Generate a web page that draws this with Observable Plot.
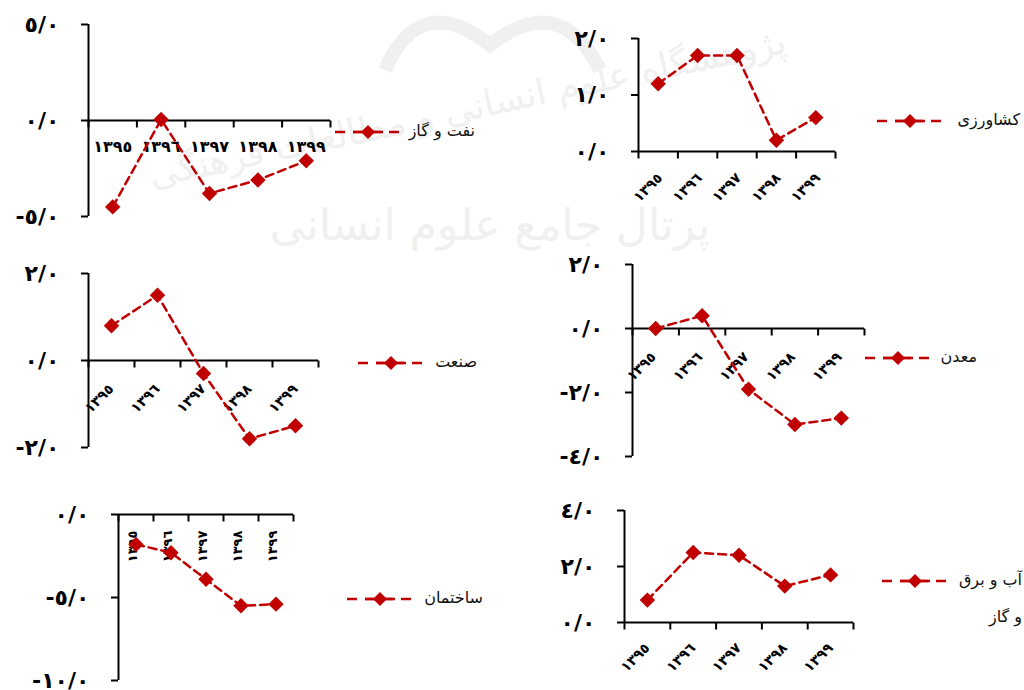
<!DOCTYPE html>
<html>
<head>
<meta charset="utf-8">
<script src="https://cdn.jsdelivr.net/npm/d3@7"></script>
<script src="https://cdn.jsdelivr.net/npm/@observablehq/plot@0.6"></script>
<style>
html, body { margin: 0; padding: 0; background: #fff; }
#chart { position: relative; width: 1024px; height: 690px; overflow: hidden; font-family: "DejaVu Sans", sans-serif; }
#chart svg.panel { position: absolute; left: 0; top: 0; }
.legend-key { position: absolute; }
.legend-text { position: absolute; direction: rtl; text-align: right; font-size: 16px; color: #111; white-space: nowrap; line-height: 20px; }
</style>
</head>
<body>
<div id="chart"></div>
<script>
// ---- data ----
const years = ["١٣٩٥", "١٣٩٦", "١٣٩٧", "١٣٩٨", "١٣٩٩"];
const sectorNames = ["نفت و گاز", "کشاورزی", "صنعت", "معدن", "ساختمان", "آب و برق و گاز"];

const oilGas       = [-4.5, 0.05, -3.8, -3.1, -2.1];
const agriculture  = [1.2, 1.7, 1.7, 0.2, 0.6];
const industry     = [0.8, 1.5, -0.3, -1.8, -1.5];
const mining       = [0.0, 0.4, -1.9, -3.0, -2.8];
const construction = [-1.8, -2.3, -3.9, -5.5, -5.4];
const utilities    = [0.8, 2.5, 2.4, 1.3, 1.7];

const oilGasTicks       = [-5, 0, 5];
const agricultureTicks  = [0, 1, 2];
const industryTicks     = [-2, 0, 2];
const miningTicks       = [-4, -2, 0, 2];
const constructionTicks = [-10, -5, 0];
const utilitiesTicks    = [0, 2, 4];

// ---- helpers ----
const RED = "#c00000";
const W = 1024, H = 690;
const arDigits = "٠١٢٣٤٥٦٧٨٩";
const toAr = s => s.replace(/[0-9]/g, c => arDigits[+c]);
const fmt = d => (d < 0 ? "-" : "") + toAr(Math.abs(d).toFixed(1)).replace(".", "/");
const tickDown = { draw(ctx) { ctx.moveTo(0, 0); ctx.lineTo(0, 7); } };

const chart = document.getElementById("chart");

function panel(values, ticks, L) {
  const pts = years.map((yr, i) => ({ year: yr, pos: i + 0.5, value: values[i] }));
  const bounds = d3.range(years.length + 1);
  const svg = Plot.plot({
    width: W, height: H,
    marginLeft: L.left, marginRight: W - L.right, marginTop: L.top, marginBottom: H - L.bottom,
    x: { domain: [0, years.length], axis: null },
    y: { domain: d3.extent(ticks), axis: null },
    style: { fontFamily: "DejaVu Sans", background: "transparent", color: "black", overflow: "visible" },
    marks: [
      Plot.ruleX([0], { stroke: "black", strokeWidth: 2 }),
      Plot.ruleY([0], { stroke: "black", strokeWidth: 2 }),
      Plot.axisY({ ticks, label: null, tickSize: 7, tickPadding: 22, tickFormat: fmt, fontSize: 22, fontWeight: "bold", strokeWidth: 2 }),
      Plot.dot(bounds, { x: d => d, y: () => 0, symbol: tickDown, r: 3, stroke: "black", strokeWidth: 2, fill: "none" }),
      Plot.text(pts, { x: "pos", y: () => 0, text: "year", rotate: L.rot, textAnchor: L.anchor, dx: L.dx, dy: L.dy, fontSize: L.fs, fontWeight: "bold", fill: "black", letterSpacing: L.ls || 0 }),
      Plot.line(pts, { x: "pos", y: "value", stroke: RED, strokeWidth: 2.5, strokeDasharray: "8,5" }),
      Plot.dot(pts, { x: "pos", y: "value", symbol: "diamond2", r: 6, fill: RED, stroke: RED })
    ]
  });
  svg.classList.add("panel");
  chart.appendChild(svg);
}

function legend(lineLeft, cy, textRight, label) {
  const ns = "http://www.w3.org/2000/svg";
  const s = document.createElementNS(ns, "svg");
  s.setAttribute("class", "legend-key");
  s.setAttribute("width", 66); s.setAttribute("height", 16);
  s.style.left = lineLeft + "px"; s.style.top = (cy - 8) + "px";
  s.innerHTML = `<line x1="0" x2="66" y1="8" y2="8" stroke="${RED}" stroke-width="2.5" stroke-dasharray="10,8"/>
    <line x1="18" x2="48" y1="8" y2="8" stroke="${RED}" stroke-width="2.5"/>
    <path d="M33,1 L40,8 L33,15 L26,8 Z" fill="${RED}"/>`;
  chart.appendChild(s);
  const lines = Array.isArray(label) ? label : [label];
  lines.forEach((t, k) => {
    const d = document.createElement("div");
    d.className = "legend-text";
    d.textContent = t;
    d.style.right = (W - textRight) + "px";
    d.style.top = (cy - 11 + k * 37) + "px";
    chart.appendChild(d);
  });
}

// watermark (faint background)
const wm = document.createElementNS("http://www.w3.org/2000/svg", "svg");
wm.setAttribute("width", W); wm.setAttribute("height", H);
wm.style.position = "absolute"; wm.style.left = "0"; wm.style.top = "0";
wm.innerHTML = `<path d="M385,70 Q420,-10 490,45 Q560,-10 600,70" fill="none" stroke="#f0f0f0" stroke-width="14"/>
  <text x="470" y="120" text-anchor="middle" font-family="DejaVu Sans" font-size="36" fill="#f0f0f0" transform="rotate(-12 470 120)">پژوهشگاه علوم انسانی و مطالعات فرهنگی</text>
  <text x="490" y="240" text-anchor="middle" font-family="DejaVu Sans" font-size="44" fill="#f0f0f0">پرتال جامع علوم انسانی</text>`;
chart.appendChild(wm);

// ---- panels ----
panel(oilGas,       oilGasTicks,       { left: 88,  right: 330, top: 24,  bottom: 216, rot: 0,   anchor: "middle", dx: 0,  dy: 26, fs: 16, ls: 2 });
panel(agriculture,  agricultureTicks,  { left: 638, right: 835, top: 38,  bottom: 151, rot: -45, anchor: "end",    dx: 2,  dy: 24, fs: 14 });
panel(industry,     industryTicks,     { left: 88,  right: 318, top: 273, bottom: 447, rot: -45, anchor: "end",    dx: 0,  dy: 26, fs: 14 });
panel(mining,       miningTicks,       { left: 632, right: 864, top: 264, bottom: 456, rot: -45, anchor: "end",    dx: -2, dy: 26, fs: 14 });
panel(construction, constructionTicks, { left: 118, right: 293, top: 514, bottom: 680, rot: -90, anchor: "end",    dx: -3, dy: 16, fs: 13 });
panel(utilities,    utilitiesTicks,    { left: 624, right: 853, top: 510, bottom: 622, rot: -45, anchor: "end",    dx: 0,  dy: 23, fs: 14 });

// ---- legends ----
legend(335, 132, 475, sectorNames[0]);
legend(877, 121, 1020, sectorNames[1]);
legend(358, 363, 477, sectorNames[2]);
legend(865, 358, 977, sectorNames[3]);
legend(347, 599, 483, sectorNames[4]);
legend(882, 581, 1022, ["آب و برق", "و گاز"]);
</script>
</body>
</html>
